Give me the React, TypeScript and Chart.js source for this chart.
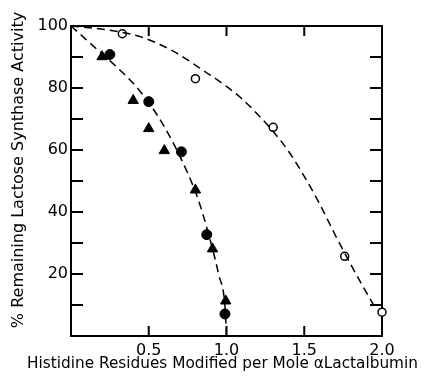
import { useEffect, useRef } from 'react';
import { Chart, registerables } from 'chart.js';

Chart.register(...registerables);

// Open circles
const openX = [0.33, 0.8, 1.3, 1.76, 2.0];
const openY = [97.5, 83, 67.3, 25.7, 7.7];
// Filled circles
const filledX = [0.25, 0.5, 0.71, 0.873, 0.99];
const filledY = [90.8, 75.6, 59.4, 32.7, 7.1];
// Filled triangles
const triX = [0.2, 0.4, 0.5, 0.6, 0.8, 0.91, 0.995];
const triY = [90.1, 76, 66.9, 59.8, 47.1, 28.1, 11.3];
// Dashed curve through open circles
const curve1X = [0, 0.25, 0.45, 0.66, 0.87, 1.0, 1.1, 1.2, 1.3, 1.4, 1.5, 1.6, 1.7, 1.8, 1.9, 1.96];
const curve1Y = [100, 98.6, 96.5, 91.8, 85, 80.5, 76.5, 71.5, 66, 59.5, 51.5, 42.5, 32.5, 23, 14, 8.8];
// Dashed curve through filled symbols
const curve2X = [0, 0.1, 0.2, 0.3, 0.4, 0.5, 0.6, 0.7, 0.8, 0.85, 0.9, 0.95, 0.99, 1.0];
const curve2Y = [100, 95.5, 91, 86.5, 81.5, 75.3, 67.5, 58, 46.5, 39, 30, 19.8, 9.6, 0];
// Tick marks and labels
const xTickMarks = [0.5, 1.0, 1.5];
const yTickMarks = [10, 20, 30, 40, 50, 60, 70, 80, 90];
const xTitle = 'Histidine Residues Modified per Mole \u03b1Lactalbumin';
const yTitle = '% Remaining Lactose Synthase Activity';

const FONT = 'DejaVu Sans';

const pts = (xs: number[], ys: number[]) => xs.map((x, i) => ({ x, y: ys[i] }));

export default function App() {
  const ref = useRef<HTMLCanvasElement>(null);
  useEffect(() => {
    document.body.style.margin = '0';
    const canvas = ref.current!;
    const framePlugin = {
      id: 'frame',
      beforeDatasetsDraw(chart: any) {
        const { ctx, chartArea: a, scales } = chart;
        ctx.save();
        ctx.strokeStyle = '#000';
        ctx.lineWidth = 2;
        ctx.strokeRect(a.left, a.top, a.right - a.left, a.bottom - a.top);
        ctx.beginPath();
        yTickMarks.forEach((v) => {
          const y = scales.y.getPixelForValue(v);
          ctx.moveTo(a.left, y);
          ctx.lineTo(a.left + 12, y);
          ctx.moveTo(a.right - 12, y);
          ctx.lineTo(a.right, y);
        });
        xTickMarks.forEach((v) => {
          const x = scales.x.getPixelForValue(v);
          ctx.moveTo(x, a.top);
          ctx.lineTo(x, a.top + 10);
          ctx.moveTo(x, a.bottom);
          ctx.lineTo(x, a.bottom - 10);
        });
        ctx.stroke();
        ctx.fillStyle = '#000';
        ctx.textAlign = 'center';
        ctx.textBaseline = 'middle';
        // x-axis title (drawn here so it is not squeezed to the plot width)
        ctx.font = `15.3px "${FONT}"`;
        ctx.fillText(xTitle, (a.left + a.right) / 2 - 4, 364);
        // y-axis title, centred slightly above the plot middle as in the reference
        ctx.translate(19, (a.top + a.bottom) / 2 - 11);
        ctx.rotate(-Math.PI / 2);
        ctx.font = `16px "${FONT}"`;
        ctx.fillText(yTitle, 0, 0);
        ctx.restore();
      },
    };
    const chart = new Chart(canvas, {
      type: 'scatter',
      data: {
        datasets: [
          {
            data: pts(curve1X, curve1Y),
            showLine: true,
            borderColor: '#000',
            borderWidth: 1.5,
            borderDash: [8, 5],
            pointRadius: 0,
            cubicInterpolationMode: 'monotone',
            clip: false,
          } as any,
          {
            data: pts(curve2X, curve2Y),
            showLine: true,
            borderColor: '#000',
            borderWidth: 1.5,
            borderDash: [8, 5],
            pointRadius: 0,
            cubicInterpolationMode: 'monotone',
            clip: false,
          } as any,
          {
            data: pts(openX, openY),
            pointStyle: 'circle',
            pointRadius: 4,
            pointBorderWidth: 1.5,
            pointBorderColor: '#000',
            pointBackgroundColor: '#fff',
            clip: false,
          } as any,
          {
            data: pts(filledX, filledY),
            pointStyle: 'circle',
            pointRadius: 5,
            pointBorderWidth: 1,
            pointBorderColor: '#000',
            pointBackgroundColor: '#000',
            clip: false,
          } as any,
          {
            data: pts(triX, triY),
            pointStyle: 'triangle',
            pointRadius: 6,
            pointBorderWidth: 1,
            pointBorderColor: '#000',
            pointBackgroundColor: '#000',
            clip: false,
          } as any,
        ],
      },
      options: {
        animation: false,
        responsive: false,
        events: [],
        layout: { padding: { top: 26, right: 45, left: 0, bottom: 0 } },
        plugins: { legend: { display: false }, tooltip: { enabled: false } },
        scales: {
          x: {
            type: 'linear',
            min: 0,
            max: 2,
            afterFit: (s: any) => {
              s.height = 44;
            },
            grid: { display: false, drawTicks: false },
            border: { display: false },
            ticks: {
              stepSize: 0.5,
              padding: 5,
              color: '#000',
              font: { family: FONT, size: 16 },
              callback: (v: any) => (Number(v) === 0 ? '' : Number(v).toFixed(1)),
            },
            title: { display: false },
          },
          y: {
            type: 'linear',
            min: 0,
            max: 100,
            afterFit: (s: any) => {
              s.width = 71;
            },
            grid: { display: false, drawTicks: false },
            border: { display: false },
            ticks: {
              stepSize: 20,
              padding: 3,
              color: '#000',
              font: { family: FONT, size: 16 },
              callback: (v: any) => (Number(v) === 0 ? '' : String(v)),
            },
            title: { display: false },
          },
        },
      },
      plugins: [framePlugin],
    });
    return () => chart.destroy();
  }, []);
  return (
    <div style={{ width: 427, height: 380 }}>
      <canvas ref={ref} width={427} height={380} style={{ display: 'block' }} />
    </div>
  );
}
